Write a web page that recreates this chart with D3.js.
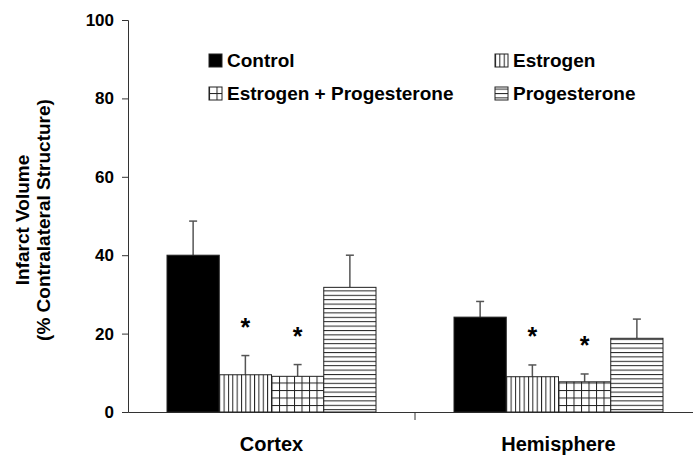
<!DOCTYPE html>
<html>
<head>
<meta charset="utf-8">
<script src="https://cdn.jsdelivr.net/npm/d3@7"></script>
<style>
  body { margin: 0; background: white; }
  text { font-family: "Liberation Sans", Arial, sans-serif; font-weight: bold; fill: black; }
</style>
</head>
<body>
<div id="chart"></div>
<script>
var regions = ["Cortex", "Hemisphere"];
var treatments = ["Control", "Estrogen", "Estrogen + Progesterone", "Progesterone"];
// mean values, per region, in treatment order
var means = [[40, 9.5, 9.1, 31.8], [24.2, 9.0, 7.7, 18.8]];
var errors = [[8.7, 4.9, 3.0, 8.2], [4.0, 3.0, 2.0, 4.9]];
var signif = [[false, true, true, false], [false, true, true, false]];
var yTicks = [0, 20, 40, 60, 80, 100];

var width = 693, height = 455;
var svg = d3.select("#chart").append("svg")
  .attr("width", width)
  .attr("height", height);

// fill patterns
var defs = svg.append("defs");
var pv = defs.append("pattern").attr("id", "vert").attr("patternUnits", "userSpaceOnUse")
  .attr("width", 4.35).attr("height", 10);
pv.append("rect").attr("width", 4.35).attr("height", 10).attr("fill", "white");
pv.append("line").attr("x1", 0.5).attr("x2", 0.5).attr("y1", 0).attr("y2", 10)
  .attr("stroke", "#222").attr("stroke-width", 1);

var pg = defs.append("pattern").attr("id", "grid").attr("patternUnits", "userSpaceOnUse")
  .attr("width", 7.5).attr("height", 7.5);
pg.append("rect").attr("width", 7.5).attr("height", 7.5).attr("fill", "white");
pg.append("line").attr("x1", 0.5).attr("x2", 0.5).attr("y1", 0).attr("y2", 7.5)
  .attr("stroke", "#222").attr("stroke-width", 1);
pg.append("line").attr("x1", 0).attr("x2", 7.5).attr("y1", 0.5).attr("y2", 0.5)
  .attr("stroke", "#222").attr("stroke-width", 1);

var ph = defs.append("pattern").attr("id", "horiz").attr("patternUnits", "userSpaceOnUse")
  .attr("width", 10).attr("height", 4.4);
ph.append("rect").attr("width", 10).attr("height", 4.4).attr("fill", "white");
ph.append("line").attr("x1", 0).attr("x2", 10).attr("y1", 0.5).attr("y2", 0.5)
  .attr("stroke", "#222").attr("stroke-width", 1);

var fills = ["black", "url(#vert)", "url(#grid)", "url(#horiz)"];

var y = d3.scaleLinear().domain([0, 100]).range([412, 20]);
var x0 = d3.scaleBand().domain(regions).range([128, 702]);
var x1 = d3.scaleBand().domain(treatments).range([0, 209]);

// axes
var yAxis = svg.append("g").attr("transform", "translate(128,0)")
  .call(d3.axisLeft(y).tickValues(yTicks).tickSize(6).tickPadding(8));
yAxis.select(".domain").attr("stroke", "#333");
yAxis.selectAll(".tick line").attr("stroke", "#333");
yAxis.selectAll(".tick text").style("font-size", "17px");

var xAxis = svg.append("g").attr("transform", "translate(0,412)")
  .call(d3.axisBottom(x0).tickSize(0).tickPadding(25).tickSizeOuter(0));
xAxis.select(".domain").attr("stroke", "#333");
xAxis.selectAll(".tick text").style("font-size", "20px");
// separator tick between the groups
svg.append("line")
  .attr("x1", x0("Hemisphere")).attr("x2", x0("Hemisphere"))
  .attr("y1", 412).attr("y2", 420)
  .attr("stroke", "#333");

// y title
var yt = svg.append("text")
  .attr("transform", "translate(0,220) rotate(-90)")
  .attr("text-anchor", "middle")
  .style("font-size", "19px");
yt.append("tspan").attr("x", 0).attr("y", 29).text("Infarct Volume");
yt.append("tspan").attr("x", 0).attr("y", 50).text("(% Contralateral Structure)");

// bars
var rows = [];
regions.forEach(function (r, i) {
  treatments.forEach(function (t, j) {
    rows.push({ region: r, treatment: t, j: j, mean: means[i][j], err: errors[i][j], sig: signif[i][j] });
  });
});

var groups = svg.selectAll(".bar")
  .data(rows)
  .enter()
  .append("g")
  .attr("transform", function (d) { return "translate(" + (x0(d.region) + (x0.bandwidth() - 209) / 2 + x1(d.treatment)) + ",0)"; });

groups.append("line")
  .attr("x1", x1.bandwidth() / 2).attr("x2", x1.bandwidth() / 2)
  .attr("y1", function (d) { return y(d.mean); })
  .attr("y2", function (d) { return y(d.mean + d.err); })
  .attr("stroke", "#555").attr("stroke-width", 1.5);
groups.append("line")
  .attr("x1", x1.bandwidth() / 2 - 4).attr("x2", x1.bandwidth() / 2 + 4)
  .attr("y1", function (d) { return y(d.mean + d.err); })
  .attr("y2", function (d) { return y(d.mean + d.err); })
  .attr("stroke", "#555").attr("stroke-width", 1.5);

groups.append("rect")
  .attr("x", 0)
  .attr("width", x1.bandwidth())
  .attr("y", function (d) { return y(d.mean); })
  .attr("height", function (d) { return y(0) - y(d.mean); })
  .attr("fill", function (d) { return fills[d.j]; })
  .attr("stroke", "#222").attr("stroke-width", 1);

groups.filter(function (d) { return d.sig; })
  .append("text")
  .attr("x", x1.bandwidth() / 2)
  .attr("y", function (d) { return y(d.mean + d.err) - 20; })
  .attr("text-anchor", "middle")
  .style("font-size", "25px")
  .text("*");

// legend
var legendPos = [[209, 60], [495, 60], [209, 93], [495, 93]];
var legend = svg.selectAll(".legend")
  .data(treatments)
  .enter()
  .append("g")
  .attr("transform", function (d, i) { return "translate(" + legendPos[i][0] + "," + legendPos[i][1] + ")"; });
legend.append("rect")
  .attr("x", 0).attr("y", -6).attr("width", 13).attr("height", 13)
  .attr("fill", function (d, i) { return fills[i]; })
  .attr("stroke", "#222").attr("stroke-width", 1);
legend.append("text")
  .attr("x", 18).attr("y", 7)
  .style("font-size", "19px")
  .text(function (d) { return d; });
</script>
</body>
</html>
